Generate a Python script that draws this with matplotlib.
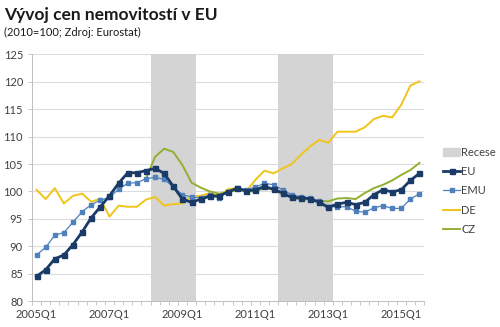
import matplotlib
matplotlib.use('Agg')
import matplotlib.pyplot as plt
from matplotlib.patches import Patch
from matplotlib.lines import Line2D
import numpy as np

plt.rcParams['font.family'] = ['Lato', 'DejaVu Sans']

# quarters 2005Q1 .. 2015Q3
quarters = ['%dQ%d' % (y, q) for y in range(2005, 2016) for q in range(1, 5)][:43]

eu = [84.5, 85.7, 87.7, 88.4, 90.3, 92.6, 95.2, 97.2, 99.2, 101.5, 103.4, 103.4, 103.8, 104.2,
      103.3, 100.9, 98.6, 98.0, 98.6, 99.1, 99.2, 99.9, 100.6, 100.1, 100.3, 100.9, 100.4, 99.7,
      98.9, 98.8, 98.7, 98.0, 97.1, 97.7, 98.0, 97.6, 98.0, 99.4, 100.3, 99.9, 100.3, 102.0, 103.3]
emu = [88.4, 89.8, 92.0, 92.5, 94.4, 96.3, 97.6, 98.4, 98.9, 100.4, 101.5, 101.6, 102.3, 102.6,
       102.2, 100.8, 99.4, 99.0, 98.8, 99.4, 98.8, 99.9, 100.6, 100.3, 100.8, 101.5, 101.2, 100.3,
       99.4, 99.0, 98.8, 98.2, 97.2, 97.2, 97.2, 96.4, 96.2, 97.0, 97.4, 96.9, 96.9, 98.6, 99.6]
de = [100.3, 98.6, 100.6, 97.8, 99.2, 99.6, 98.1, 98.7, 95.4, 97.4, 97.2, 97.2, 98.5, 99.0,
      97.4, 97.7, 97.8, 99.1, 99.2, 99.7, 99.2, 100.4, 100.6, 100.0, 102.1, 103.8, 103.3, 104.2,
      105.0, 106.7, 108.2, 109.4, 108.9, 110.9, 110.9, 110.9, 111.7, 113.2, 113.8, 113.5, 115.8,
      119.3, 120.1]
cz = [np.nan] * 12 + [102.3, 106.3, 107.8, 107.2, 104.8, 101.6, 100.7, 100.0, 99.6, 99.9, 100.2,
                      100.0, 100.0, 100.6, 100.3, 99.5, 98.8, 98.6, 98.5, 98.2, 98.2, 98.7, 98.8,
                      98.6, 99.7, 100.6, 101.2, 102.0, 103.0, 103.9, 105.2]
# recession quarters: 2008Q2-2009Q2, 2011Q4-2013Q1
recese = [0] * 13 + [125] * 5 + [0] * 9 + [125] * 6 + [0] * 10

x = np.arange(len(quarters))

fig = plt.figure(figsize=(5, 3.27), dpi=100)
ax = fig.add_axes([0.064, 0.0795, 0.784, 0.754])

ax.bar(x, recese, width=1.0, color='#d4d4d4', zorder=1)
ax.plot(x, cz, color='#92b030', lw=1.4, zorder=3)
ax.plot(x, de, color='#f0c419', lw=1.4, zorder=3)
ax.plot(x, emu, color='#4f81bd', lw=0.9, marker='s', ms=2.2, zorder=4)
ax.plot(x, eu, color='#1a3a68', lw=2.0, marker='s', ms=3.6, zorder=5)

ax.set_ylim(80, 125)
ax.set_xlim(-0.5, len(quarters) - 0.5)
ax.set_yticks(np.arange(80, 126, 5))
ax.yaxis.grid(True, color='#dcdcdc', lw=0.8)
ax.set_axisbelow(True)

ax.set_xticks(x[::8])
ax.set_xticklabels(quarters[::8])
ax.set_xticks(np.arange(-0.5, len(quarters), 1), minor=True)
ax.tick_params(axis='x', which='major', length=0, pad=6, labelsize=8, colors='#404040')
ax.tick_params(axis='x', which='minor', length=3, color='#bfbfbf', width=0.6)
ax.tick_params(axis='y', length=3, width=0.6, labelsize=8, colors='#bfbfbf', labelcolor='#404040')

for s in ['top', 'right']:
    ax.spines[s].set_visible(False)
for s in ['left', 'bottom']:
    ax.spines[s].set_color('#bfbfbf')
    ax.spines[s].set_linewidth(0.7)

fig.text(0.008, 0.955, 'Vývoj cen nemovitostí v EU', fontsize=12.5, fontweight='bold',
         color='#1a1a1a', va='center')
fig.text(0.008, 0.9, '(2010=100; Zdroj: Eurostat)', fontsize=8, color='#1a1a1a', va='center')

handles = [Patch(color='#d4d4d4'),
           Line2D([], [], color='#1a3a68', lw=2.0, marker='s', ms=3.6),
           Line2D([], [], color='#4f81bd', lw=0.9, marker='s', ms=2.2),
           Line2D([], [], color='#f0c419', lw=1.4),
           Line2D([], [], color='#92b030', lw=1.4)]
fig.legend(handles, ['Recese', 'EU', 'EMU', 'DE', 'CZ'], loc='upper left',
           bbox_to_anchor=(0.878, 0.565), frameon=False, fontsize=8,
           handlelength=1.5, handletextpad=0.1, labelspacing=0.75, borderaxespad=0,
           labelcolor='#404040')

fig.savefig('out.png', dpi=100)
